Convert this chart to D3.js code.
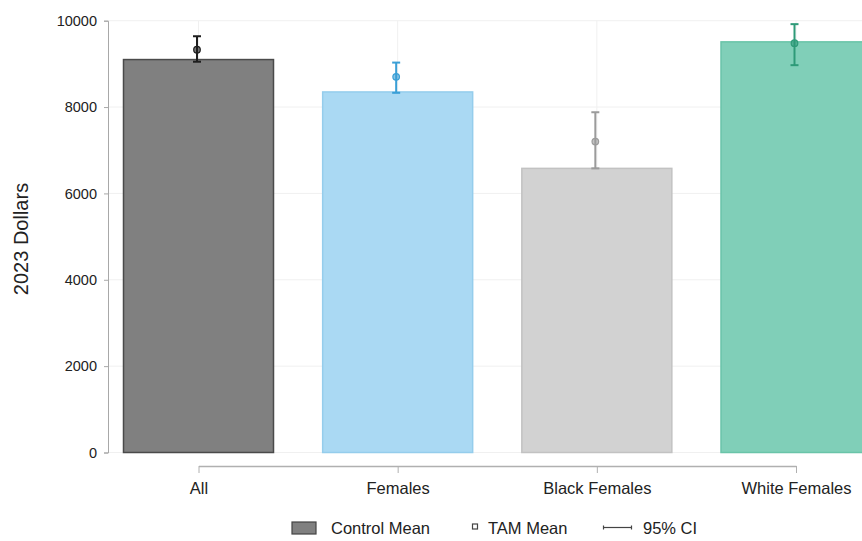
<!DOCTYPE html>
<html>
<head>
<meta charset="utf-8">
<script src="https://cdn.jsdelivr.net/npm/d3@7/dist/d3.min.js"></script>
<style>
  html, body { margin: 0; padding: 0; background: #fff; }
  svg { display: block; font-family: "Liberation Sans", Arial, Helvetica, sans-serif; }
</style>
</head>
<body>
<svg id="chart" width="862" height="541"></svg>
<script>
const categories = ["All", "Females", "Black Females", "White Females"];
const controlMean = [9100, 8350, 6580, 9510];
const tamMean = [9330, 8700, 7200, 9480];
const ciLow = [9050, 8330, 6580, 8970];
const ciHigh = [9640, 9030, 7880, 9920];
const yTicks = [0, 2000, 4000, 6000, 8000, 10000];

const barFill = ["#808080", "#aad9f3", "#d2d2d2", "#80cfb8"];
const barStroke = ["#4a4a4a", "#95cdec", "#c2c2c2", "#6ac4a9"];
const errColor = ["#1e1e1e", "#3a9fd6", "#9b9b9b", "#2e9a78"];

const svg = d3.select("#chart");
const W = 862, H = 541;

const y = d3.scaleLinear().domain([0, 10000]).range([452.5, 20.7]);
const x = d3.scalePoint().domain(categories).range([198.5, 796]);
const barW = 150;

// gridlines
const grid = svg.append("g");
grid.selectAll("line.h").data(yTicks).enter().append("line")
  .attr("x1", 108).attr("x2", W)
  .attr("y1", d => y(d)).attr("y2", d => y(d))
  .attr("stroke", "#f0f0f0").attr("stroke-width", 1);
grid.selectAll("line.v").data(categories).enter().append("line")
  .attr("x1", d => x(d)).attr("x2", d => x(d))
  .attr("y1", y(10000)).attr("y2", y(0))
  .attr("stroke", "#f0f0f0").attr("stroke-width", 1);

// bars
svg.append("g").selectAll("rect").data(categories).enter().append("rect")
  .attr("x", d => x(d) - barW / 2)
  .attr("width", barW)
  .attr("y", (d, i) => y(controlMean[i]))
  .attr("height", (d, i) => y(0) - y(controlMean[i]))
  .attr("fill", (d, i) => barFill[i])
  .attr("stroke", (d, i) => barStroke[i])
  .attr("stroke-width", 1.5);

// error bars
const eb = svg.append("g");
categories.forEach((c, i) => {
  const cx = x(c) - 1.5;
  const g = eb.append("g").attr("stroke", errColor[i]).attr("stroke-width", 2);
  g.append("line").attr("x1", cx).attr("x2", cx).attr("y1", y(ciLow[i])).attr("y2", y(ciHigh[i]));
  g.append("line").attr("x1", cx - 4).attr("x2", cx + 4).attr("y1", y(ciLow[i])).attr("y2", y(ciLow[i]));
  g.append("line").attr("x1", cx - 4).attr("x2", cx + 4).attr("y1", y(ciHigh[i])).attr("y2", y(ciHigh[i]));
  eb.append("circle").attr("cx", cx).attr("cy", y(tamMean[i])).attr("r", 3.3)
    .attr("fill", errColor[i]).attr("fill-opacity", 0.6)
    .attr("stroke", errColor[i]).attr("stroke-width", 1.2);
});

// y axis
const yAxis = svg.append("g").attr("transform", "translate(108,0)")
  .call(d3.axisLeft(y).tickValues(yTicks).tickSize(4).tickPadding(7).tickFormat(d3.format("d")));
yAxis.select(".domain").attr("stroke", "#a8a8a8");
yAxis.selectAll(".tick line").attr("stroke", "#a8a8a8");
yAxis.selectAll(".tick text").attr("font-size", 14.5).attr("fill", "#222")
  .attr("font-family", "Liberation Sans, Arial, sans-serif");

// x axis
const xAxis = svg.append("g").attr("transform", "translate(0,466)")
  .call(d3.axisBottom(x).tickSize(7).tickSizeOuter(0).tickPadding(9));
xAxis.select(".domain").attr("stroke", "#b0b0b0").attr("stroke-width", 1.5);
xAxis.selectAll(".tick line").attr("stroke", "#b0b0b0");
xAxis.selectAll(".tick text").attr("font-size", 16.5).attr("fill", "#222")
  .attr("font-family", "Liberation Sans, Arial, sans-serif");

// y title
svg.append("text")
  .attr("transform", "translate(28,239) rotate(-90)")
  .attr("text-anchor", "middle")
  .attr("font-size", 20)
  .attr("fill", "#222")
  .text("2023 Dollars");

// legend
const lg = svg.append("g");
lg.append("rect").attr("x", 292).attr("y", 522).attr("width", 24).attr("height", 12)
  .attr("fill", "#808080").attr("stroke", "#444").attr("stroke-width", 1.2);
lg.append("text").attr("x", 331).attr("y", 534).attr("font-size", 16.5).attr("fill", "#222").text("Control Mean");
lg.append("rect").attr("x", 472.5).attr("y", 524).attr("width", 5).attr("height", 5)
  .attr("fill", "#fff").attr("stroke", "#444").attr("stroke-width", 1.2);
lg.append("text").attr("x", 488).attr("y", 534).attr("font-size", 16.5).attr("fill", "#222").text("TAM Mean");
lg.append("line").attr("x1", 603).attr("x2", 632).attr("y1", 527.5).attr("y2", 527.5)
  .attr("stroke", "#444").attr("stroke-width", 1.2);
lg.append("line").attr("x1", 603.5).attr("x2", 603.5).attr("y1", 525.5).attr("y2", 529.5)
  .attr("stroke", "#444").attr("stroke-width", 1.2);
lg.append("line").attr("x1", 631.5).attr("x2", 631.5).attr("y1", 525.5).attr("y2", 529.5)
  .attr("stroke", "#444").attr("stroke-width", 1.2);
lg.append("text").attr("x", 643).attr("y", 534).attr("font-size", 16.5).attr("fill", "#222").text("95% CI");
</script>
</body>
</html>
